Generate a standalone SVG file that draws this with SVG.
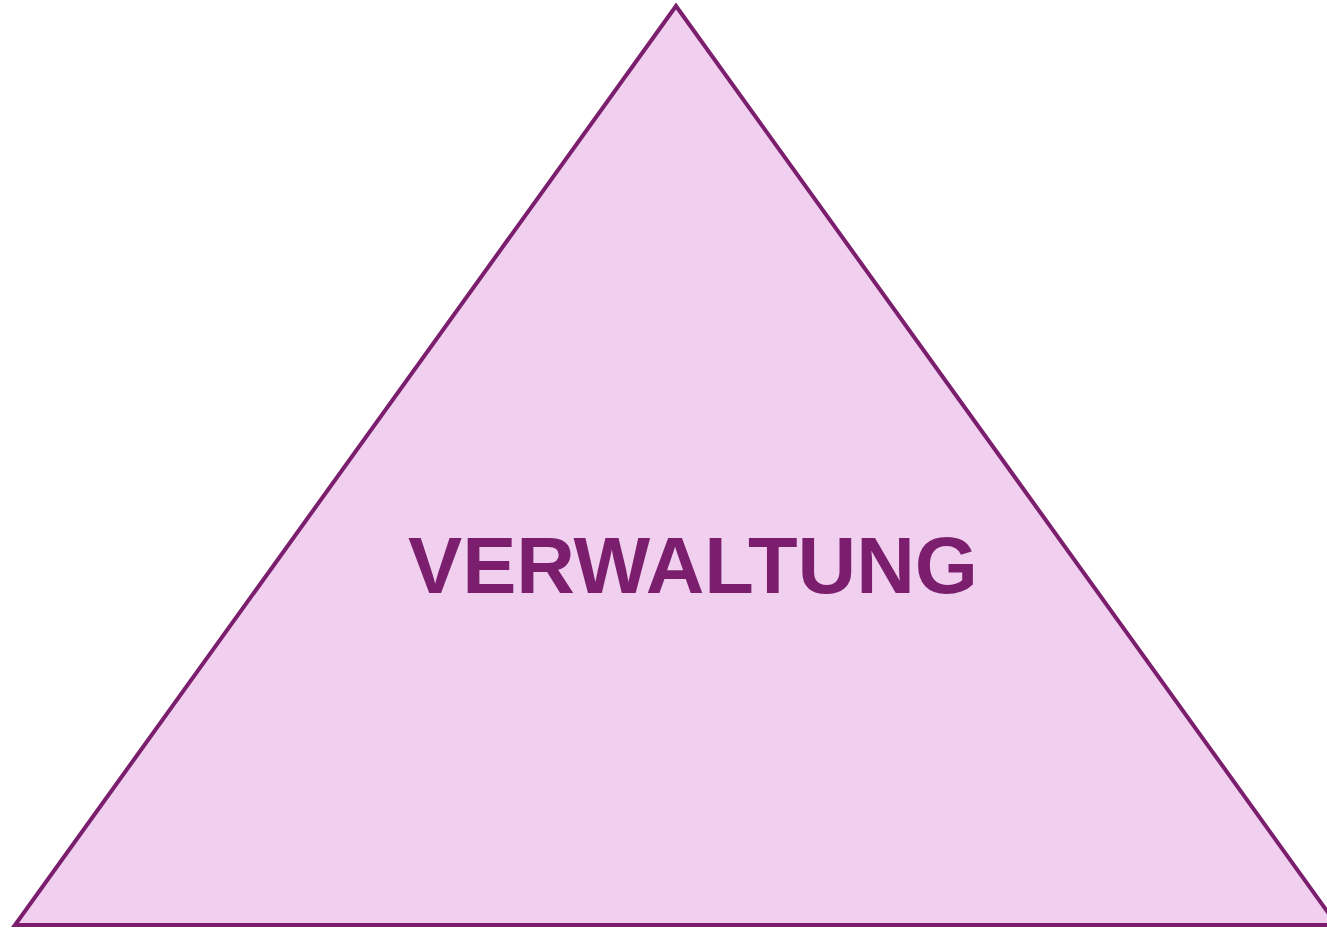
<svg xmlns="http://www.w3.org/2000/svg" width="1327" height="929" viewBox="0 0 1327 929">
<style>
.tri{fill:#F1CFEE;stroke:#7B1E6E;stroke-width:4;stroke-linejoin:miter}
.lbl{font-family:"Liberation Sans",Arial,sans-serif;font-weight:bold;font-size:79px;fill:#7B1E6E}
</style>
<rect width="1327" height="929" fill="#FFFFFF"/>
<g id="triangle">
<polygon class="tri" points="676,6 15,925 1337,925"/>
<text class="lbl" x="408" y="593" textLength="570" lengthAdjust="spacingAndGlyphs">VERWALTUNG</text>
</g>
</svg>
